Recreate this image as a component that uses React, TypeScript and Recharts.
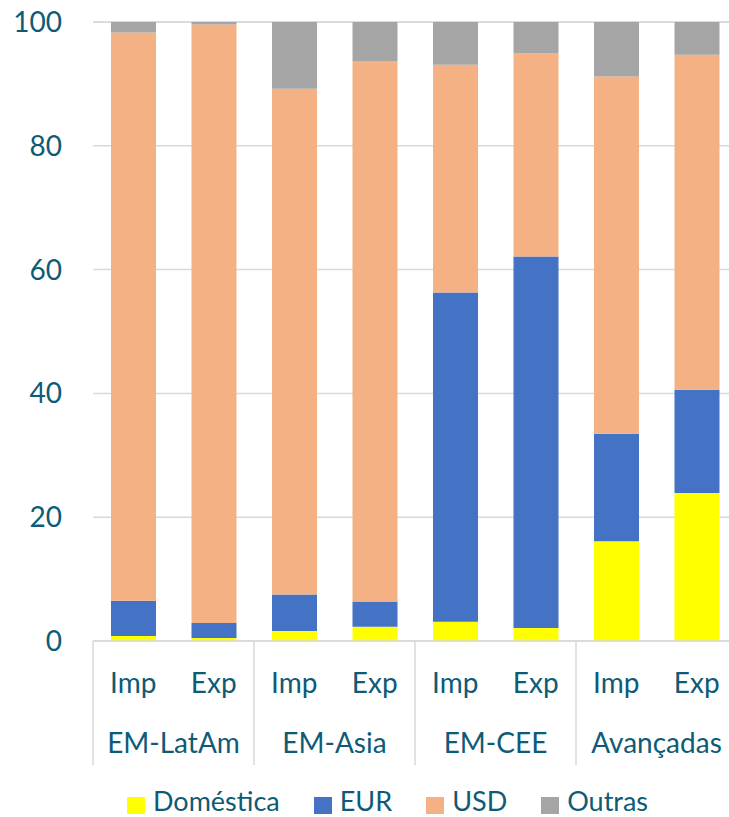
import { BarChart, Bar, XAxis, YAxis, CartesianGrid, Legend } from 'recharts'

const subLabels = ['Imp', 'Exp', 'Imp', 'Exp', 'Imp', 'Exp', 'Imp', 'Exp']
const groups = ['EM-LatAm', 'EM-LatAm', 'EM-Asia', 'EM-Asia', 'EM-CEE', 'EM-CEE', 'Avançadas', 'Avançadas']

const domestica = [0.8, 0.5, 1.6, 2.3, 3.1, 2.1, 16.1, 23.9]
const eur = [5.7, 2.4, 5.9, 4.1, 53.2, 60.0, 17.4, 16.7]
const usd = [91.8, 96.7, 81.7, 87.3, 36.8, 32.8, 57.7, 54.1]
const outras = [1.7, 0.4, 10.8, 6.3, 6.9, 5.1, 8.8, 5.3]

const yTicks = [0, 20, 40, 60, 80, 100]

const series = [
  { key: 'dom', name: 'Doméstica', color: '#FFFF00' },
  { key: 'eur', name: 'EUR', color: '#4472C4' },
  { key: 'usd', name: 'USD', color: '#F4B183' },
  { key: 'out', name: 'Outras', color: '#A5A5A5' },
]

const data = subLabels.map((sub, i) => ({
  sub,
  group: groups[i],
  dom: domestica[i],
  eur: eur[i],
  usd: usd[i],
  out: outras[i],
}))

const FONT = 'Lato, "Noto Sans", sans-serif'
const TEXT = '#0D5B77'
const GRID = '#D9D9D9'

const CHART_W = 745
const CHART_H = 817
const MARGIN = { top: 22, right: 8, left: 0, bottom: 26 }
const Y_W = 93
const BAND = (CHART_W - MARGIN.left - MARGIN.right - Y_W) / data.length
const SEP_H = 124

function SubTick({ x, y, payload, index }: any) {
  const lines = []
  if (index % 2 === 0) {
    lines.push(<line key="l" x1={x - BAND / 2} x2={x - BAND / 2} y1={y} y2={y + SEP_H} stroke={GRID} strokeWidth={1.5} />)
  }
  if (index === data.length - 1) {
    lines.push(<line key="r" x1={x + BAND / 2} x2={x + BAND / 2} y1={y} y2={y + SEP_H} stroke={GRID} strokeWidth={1.5} />)
  }
  return (
    <g>
      {lines}
      <text x={x} y={y + 52} textAnchor="middle" fontFamily={FONT} fontSize={28} fill={TEXT}>
        {payload.value}
      </text>
    </g>
  )
}

function GroupTick({ x, y, payload, index }: any) {
  if (index % 2 !== 0) return <g />
  return (
    <text x={x + BAND / 2} y={y + 50} textAnchor="middle" fontFamily={FONT} fontSize={28} fill={TEXT}>
      {payload.value}
    </text>
  )
}

function LegendContent() {
  return (
    <div style={{ display: 'flex', alignItems: 'center', height: 26, fontFamily: FONT, fontSize: 27, color: TEXT }}>
      {series.map(s => (
        <div key={s.key} style={{ display: 'flex', alignItems: 'center', marginRight: 34 }}>
          <span
            style={{ width: 18, height: 17, background: s.color, marginRight: 8, display: 'inline-block', position: 'relative', top: 4 }}
          />
          <span style={{ lineHeight: '26px' }}>{s.name}</span>
        </div>
      ))}
    </div>
  )
}

export default function App() {
  return (
    <div style={{ position: 'fixed', left: 0, top: 0, width: 729, height: 817, overflow: 'hidden', background: '#fff' }}>
      <BarChart width={CHART_W} height={CHART_H} data={data} margin={MARGIN}>
        <CartesianGrid horizontal vertical={false} stroke={GRID} strokeWidth={1.5} />
        <YAxis
          width={Y_W}
          domain={[0, 100]}
          ticks={yTicks}
          axisLine={false}
          tickLine={false}
          tickSize={0}
          tickMargin={31}
          tick={{ fontFamily: FONT, fontSize: 28, fill: TEXT }}
        />
        <XAxis
          dataKey="sub"
          height={62}
          interval={0}
          tickLine={false}
          tickSize={0}
          tickMargin={0}
          axisLine={{ stroke: GRID, strokeWidth: 1.5 }}
          tick={<SubTick />}
        />
        <XAxis
          xAxisId="grp"
          dataKey="group"
          height={62}
          interval={0}
          axisLine={false}
          tickLine={false}
          tickSize={0}
          tickMargin={0}
          tick={<GroupTick />}
        />
        <Legend
          verticalAlign="bottom"
          content={<LegendContent />}
          wrapperStyle={{ top: 788, left: 127, width: 600, height: 26 }}
        />
        {series.map(s => (
          <Bar
            key={s.key}
            dataKey={s.key}
            name={s.name}
            stackId="a"
            fill={s.color}
            barSize={45}
            isAnimationActive={false}
          />
        ))}
      </BarChart>
    </div>
  )
}
